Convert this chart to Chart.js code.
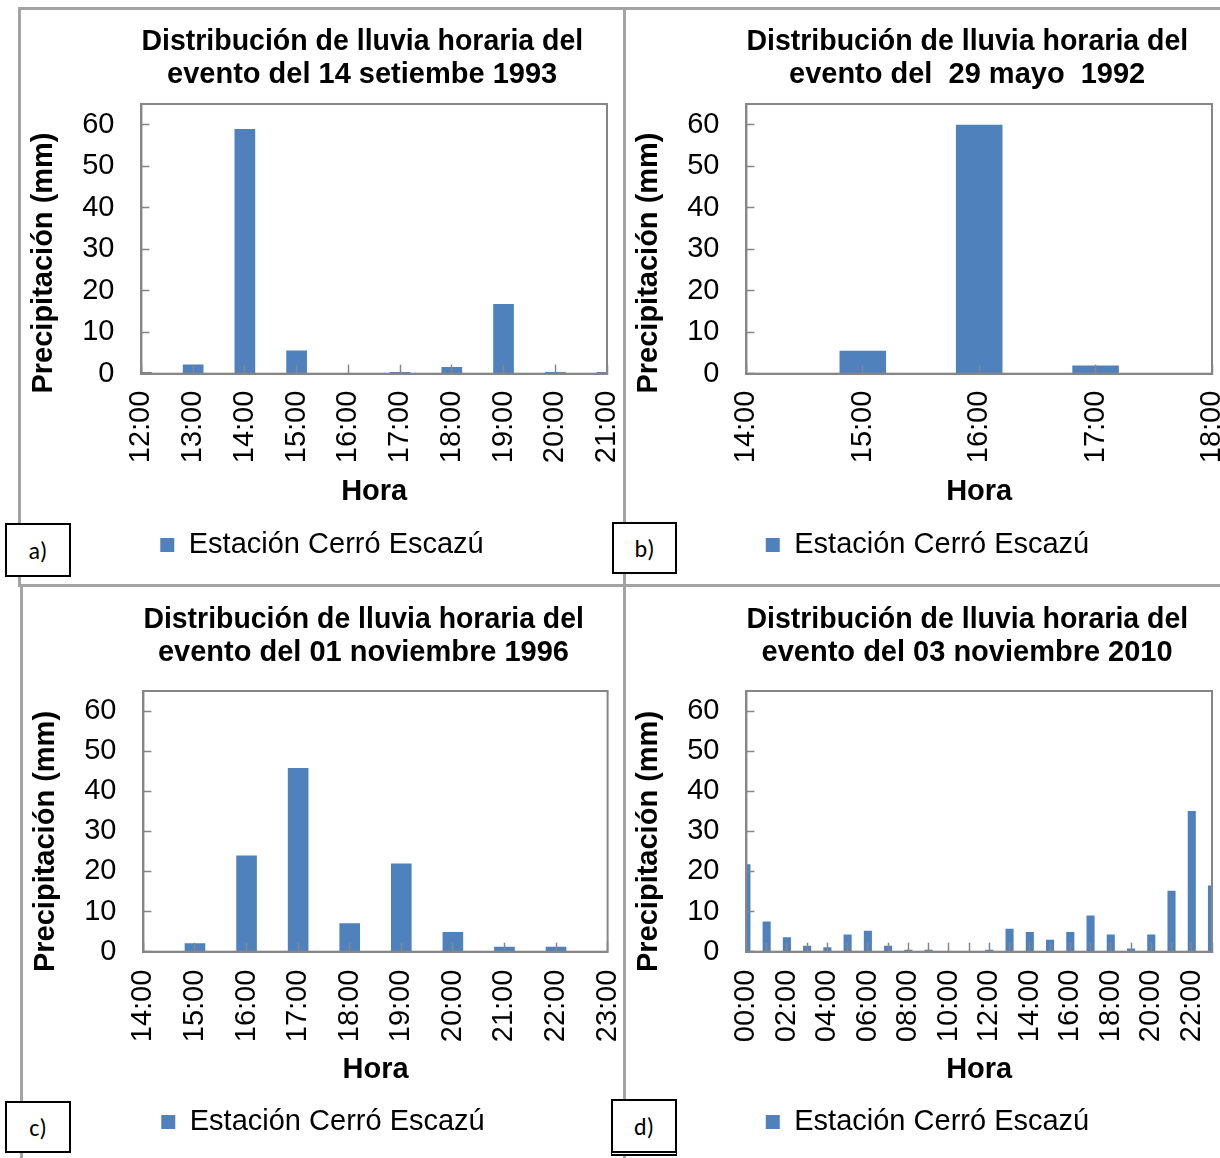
<!DOCTYPE html>
<html>
<head>
<meta charset="utf-8">
<title>Distribución de lluvia horaria</title>
<script src="https://cdn.jsdelivr.net/npm/chart.js@4.4.1/dist/chart.umd.min.js"></script>
<style>
	html, body { margin: 0; padding: 0; width: 1220px; height: 1158px; overflow: hidden; background: #fff; }
	.panel { position: absolute; }
	.rule { position: absolute; background: #a3a3a3; }
	.tag {
		position: absolute; box-sizing: border-box; background: #fff; border: 2px solid #000;
		font: 24px Carlito, Lato, "Liberation Sans", sans-serif; color: #000;
		display: flex; align-items: center; justify-content: center;
	}
</style>
</head>
<body>

<div class="rule" style="left:18px; top:7px; width:1202px; height:3px"></div>
<div class="rule" style="left:18px; top:7px; width:3px; height:578px"></div>
<div class="rule" style="left:623px; top:7px; width:3px; height:1151px"></div>
<div class="rule" style="left:18px; top:584px; width:1202px; height:3px"></div>
<div class="rule" style="left:20px; top:584px; width:3px; height:574px"></div>

<div class="panel" style="left:21px; top:10px; width:602px; height:575px"><canvas id="chartA"></canvas></div>
<div class="panel" style="left:626px; top:10px; width:603px; height:575px"><canvas id="chartB"></canvas></div>
<div class="panel" style="left:23px; top:587px; width:600px; height:571px"><canvas id="chartC"></canvas></div>
<div class="panel" style="left:626px; top:587px; width:603px; height:571px"><canvas id="chartD"></canvas></div>

<div class="tag" style="left:5px; top:523px; width:66px; height:54px">a)</div>
<div class="tag" style="left:612px; top:522px; width:65px; height:52px">b)</div>
<div class="tag" style="left:5px; top:1101px; width:66px; height:52px">c)</div>
<div class="tag" style="left:611px; top:1099px; width:66px; height:57px; border-bottom:5px double #000">d)</div>

<script>
"use strict";

// Hourly rainfall (mm) at the Cerro Escazú station, one array pair per event

var HOURS_1993 = [12, 13, 14, 15, 16, 17, 18, 19, 20, 21],
	RAIN_1993 = [0.4, 2.2, 59, 5.6, 0, 0.4, 1.6, 16.8, 0.4, 0.4];

var HOURS_1992 = [14, 15, 16, 17, 18],
	RAIN_1992 = [0, 5.5, 60, 2, 0];

var HOURS_1996 = [14, 15, 16, 17, 18, 19, 20, 21, 22, 23],
	RAIN_1996 = [0, 2.1, 24, 45.8, 7.1, 22, 4.9, 1.2, 1.2, 0];

var HOURS_2010 = [0, 1, 2, 3, 4, 5, 6, 7, 8, 9, 10, 11, 12, 13, 14, 15, 16, 17, 18, 19, 20, 21, 22, 23],
	RAIN_2010 = [21.8, 7.5, 3.6, 1.5, 1.1, 4.3, 5.2, 1.5, 0.5, 0.5, 0, 0, 0.5, 5.7, 4.9, 3.0,
		4.9, 9.0, 4.3, 0.8, 4.3, 15.2, 35.1, 16.5];

var TITLE_1993 = ["Distribución de lluvia horaria del", "evento del 14 setiembe 1993"],
	TITLE_1992 = ["Distribución de lluvia horaria del", "evento del  29 mayo  1992"],
	TITLE_1996 = ["Distribución de lluvia horaria del", "evento del 01 noviembre 1996"],
	TITLE_2010 = ["Distribución de lluvia horaria del", "evento del 03 noviembre 2010"];

var SERIES_NAME = "Estación Cerró Escazú",
	X_TITLE = "Hora",
	Y_TITLE = "Precipitación (mm)",
	Y_MAX = 65,
	Y_STEP = 10;

// Styling

var BAR_BLUE = "#4F81BD",
	AXIS_GREY = "#868686",
	FONT = "'Liberation Sans', Arial, sans-serif";

Chart.defaults.font.family = FONT;
Chart.defaults.font.size = 29;
Chart.defaults.color = "#000";

// grey frame round the plot area
var plotFrame = {
	id: "plotFrame",
	afterDatasetsDraw: function (chart) {
		var a = chart.chartArea, ctx = chart.ctx;

		ctx.save();
		ctx.strokeStyle = AXIS_GREY;
		ctx.lineWidth = 2;
		ctx.strokeRect(a.left, a.top, a.right - a.left, a.bottom - a.top);
		ctx.restore();
	}
};

function hourLabel(value, every) {
	if (value % every !== 0) {
		return "";
	}
	return (value < 10 ? "0" : "") + value + ":00";
}

// trailing spaces shift a centred text line towards its start
function padRight(text, spaces) {
	return text + new Array(spaces + 1).join(" ");
}

function drawRainChart(id, hours, rain, title, look) {
	var points = hours.map(function (h, i) {
		return { x: h, y: rain[i] };
	});

	return new Chart(document.getElementById(id), {
		type: "bar",
		data: {
			datasets: [{
				label: SERIES_NAME,
				data: points,
				backgroundColor: BAR_BLUE,
				borderWidth: 0,
				barPercentage: 0.4,
				categoryPercentage: 1,
				clip: 0
			}]
		},
		options: {
			responsive: true,
			maintainAspectRatio: false,
			animation: false,
			layout: { padding: { top: 0, left: 0, right: 0, bottom: look.bottomPad } },
			plugins: {
				tooltip: { enabled: false },
				title: {
					display: true,
					text: title.map(function (line) { return padRight(line, 3); }),
					fullSize: false,
					color: "#000",
					font: { size: 29, weight: "bold", lineHeight: 1.15 },
					padding: look.titlePad
				},
				legend: {
					position: "bottom",
					labels: {
						boxWidth: 14,
						boxHeight: 14,
						padding: look.legendPad,
						color: "#000",
						font: { size: 29 }
					}
				}
			},
			scales: {
				x: {
					type: "linear",
					min: hours[0],
					max: hours[hours.length - 1],
					offset: false,
					afterFit: function (scale) {
						scale.paddingLeft = 0;
						scale.paddingRight = look.rightPad;
					},
					ticks: {
						stepSize: 1,
						autoSkip: false,
						maxRotation: 90,
						minRotation: 90,
						padding: look.xTickPad,
						color: "#000",
						font: { size: 29 },
						callback: function (v) { return hourLabel(v, look.labelEvery); }
					},
					grid: {
						offset: false,
						drawOnChartArea: false,
						drawTicks: true,
						tickLength: -9,
						tickColor: AXIS_GREY,
						tickWidth: 1.5,
						z: 1
					},
					border: { display: true, color: AXIS_GREY, width: 2, z: 1 },
					title: {
						display: true,
						text: X_TITLE,
						color: "#000",
						font: { size: 29, weight: "bold", lineHeight: 1.15 },
						padding: { top: look.xTitlePadTop, bottom: 0 }
					}
				},
				y: {
					min: 0,
					max: Y_MAX,
					afterFit: function (scale) {
						scale.paddingTop = 0;
						scale.paddingBottom = 0;
					},
					ticks: {
						stepSize: Y_STEP,
						includeBounds: false,
						padding: 35,
						color: "#000",
						font: { size: 29 }
					},
					grid: {
						drawOnChartArea: false,
						drawTicks: true,
						tickLength: -8,
						tickColor: AXIS_GREY,
						tickWidth: 1.5,
						z: 1
					},
					border: { display: true, color: AXIS_GREY, width: 2, z: 1 },
					title: {
						display: true,
						text: padRight(Y_TITLE, look.yTitleSpaces),
						color: "#000",
						font: { size: 29, weight: "bold", lineHeight: 1.15 },
						padding: { top: 6.5, bottom: -13.7 }
					}
				}
			}
		},
		plugins: [plotFrame]
	});
}

// Charts

var TOP_ROW = {
	titlePad: { top: 15.3, bottom: 12 },
	xTickPad: 26, xTitlePadTop: -14, legendPad: 22, bottomPad: 15.4,
	yTitleSpaces: 6, labelEvery: 1
};
var BOTTOM_ROW = {
	titlePad: { top: 16.3, bottom: 21 },
	xTickPad: 27, xTitlePadTop: -16, legendPad: 21, bottomPad: 11.4,
	yTitleSpaces: 5, labelEvery: 1
};

drawRainChart("chartA", HOURS_1993, RAIN_1993, TITLE_1993, Object.assign({}, TOP_ROW, { rightPad: 16 }));
drawRainChart("chartB", HOURS_1992, RAIN_1992, TITLE_1992, Object.assign({}, TOP_ROW, { rightPad: 17 }));
drawRainChart("chartC", HOURS_1996, RAIN_1996, TITLE_1996, Object.assign({}, BOTTOM_ROW, { rightPad: 15.4 }));
drawRainChart("chartD", HOURS_2010, RAIN_2010, TITLE_2010, Object.assign({}, BOTTOM_ROW, { rightPad: 17, labelEvery: 2 }));
</script>
</body>
</html>
